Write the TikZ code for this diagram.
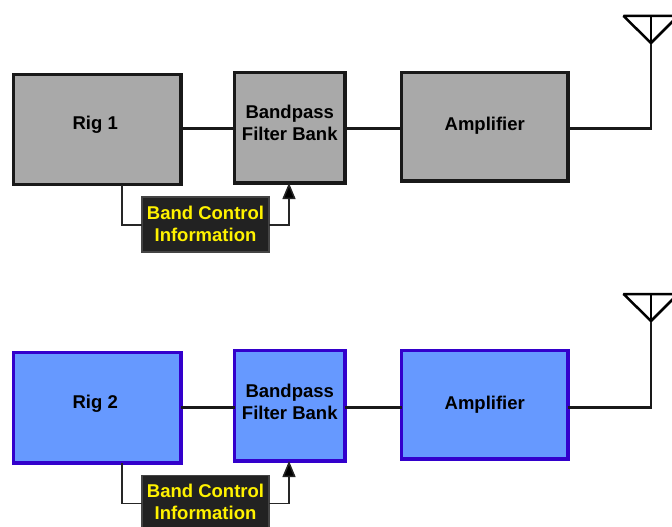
\documentclass[tikz,border=0pt]{standalone}
\usepackage{fontspec}
\setmainfont{Liberation Sans}
\usetikzlibrary{arrows.meta}
\definecolor{rigblue}{HTML}{6699FF}
\definecolor{rigedge}{HTML}{3300CC}
\definecolor{riggray}{HTML}{A9A9A9}
\definecolor{ctlfill}{HTML}{222222}
\definecolor{ctledge}{HTML}{444444}
\newcommand\liftup[2]{\raisebox{0pt}[\height][\dimexpr\depth+#1\relax]{\begin{tabular}{@{}c@{}}#2\end{tabular}}}
\tikzset{
  x=1pt,y=-1pt,
  blockbox/.style={draw,line width=3.2pt,inner sep=0pt,outer sep=0pt,anchor=north west,
    font=\fontsize{18.5}{22}\selectfont\bfseries,text=black},
  graybox/.style={blockbox,fill=riggray,draw=black!90},
  bluebox/.style={blockbox,fill=rigblue,draw=rigedge},
  ctlbox/.style={draw=ctledge,fill=ctlfill,line width=1.3pt,inner sep=0pt,outer sep=0pt,
    anchor=north west,minimum width=127pt,minimum height=55pt,
    font=\fontsize{18.5}{22}\selectfont\bfseries,text=yellow},
  wire/.style={line width=2.3pt,draw=black!90},
  thinwire/.style={line width=1.5pt,draw=black!85},
  ctlarrow/.style={thinwire,-{Triangle[length=16pt,width=13pt,fill=black]}},
  antenna/.style={line width=2.5pt,draw=black,line join=bevel}
}
\begin{document}
\begin{tikzpicture}
\useasboundingbox (0,0) rectangle (672,527);
\clip (0,0) rectangle (672,527);
% top chain
\coordinate (apexA) at (651,43);
\coordinate (topA) at (651,16);
\coordinate (leftA) at (623.5,16);
\coordinate (rightA) at (678,16);
\coordinate (cornerA) at (651,128.5);
\node[graybox,minimum width=167.5pt,minimum height=110pt] (rigA) at (13.5,74.5) {\liftup{9pt}{Rig 1\hspace{4pt}\mbox{}}};
\node[graybox,minimum width=110.5pt,minimum height=110.5pt] (filtA) at (234.5,72.5) {\liftup{5pt}{Bandpass\\Filter Bank}};
\node[graybox,minimum width=166.5pt,minimum height=108.5pt] (ampA) at (401.5,72.5) {\liftup{1pt}{Amplifier}};
\node[ctlbox] (ctlA) at (142,197) {\liftup{-3pt}{Band Control\\Information}};
\coordinate (bendA) at (122,225);
\coordinate (bendB) at (289,225);
\draw[wire] (rigA.east |- 0,128.5) -- (filtA.west |- 0,128.5);
\draw[wire] (filtA.east |- 0,128.5) -- (ampA.west |- 0,128.5);
\draw[wire] (ampA.east |- 0,128.5) -- (cornerA) -- (apexA);
\draw[antenna] (rightA) -- (leftA) -- (apexA) -- (rightA);
\draw[antenna] (topA) -- (apexA);
\draw[thinwire] (rigA.south -| bendA) -- (bendA) -- (ctlA.west |- bendA);
\draw[ctlarrow] (ctlA.east |- bendB) -- (bendB) -- (filtA.south -| bendB);
% bottom chain
\coordinate (apexB) at (651,321);
\coordinate (topB) at (651,294);
\coordinate (leftB) at (623.5,294);
\coordinate (rightB) at (678,294);
\coordinate (cornerB) at (651,407.5);
\node[bluebox,minimum width=167.5pt,minimum height=110.5pt] (rigB) at (13.5,352.5) {\liftup{7pt}{Rig 2\hspace{4pt}\mbox{}}};
\node[bluebox,minimum width=110.5pt,minimum height=110.5pt] (filtB) at (234.5,350.5) {\liftup{3pt}{Bandpass\\Filter Bank}};
\node[bluebox,minimum width=166.5pt,minimum height=108.5pt] (ampB) at (401.5,350.5) {\liftup{0pt}{Amplifier}};
\node[ctlbox] (ctlB) at (142,475.5) {\liftup{-3pt}{Band Control\\Information}};
\coordinate (bendC) at (122,503.5);
\coordinate (bendD) at (289,503.5);
\draw[wire] (rigB.east |- 0,407.5) -- (filtB.west |- 0,407.5);
\draw[wire] (filtB.east |- 0,407.5) -- (ampB.west |- 0,407.5);
\draw[wire] (ampB.east |- 0,407.5) -- (cornerB) -- (apexB);
\draw[antenna] (rightB) -- (leftB) -- (apexB) -- (rightB);
\draw[antenna] (topB) -- (apexB);
\draw[thinwire] (rigB.south -| bendC) -- (bendC) -- (ctlB.west |- bendC);
\draw[ctlarrow] (ctlB.east |- bendD) -- (bendD) -- (filtB.south -| bendD);
\end{tikzpicture}
\end{document}
